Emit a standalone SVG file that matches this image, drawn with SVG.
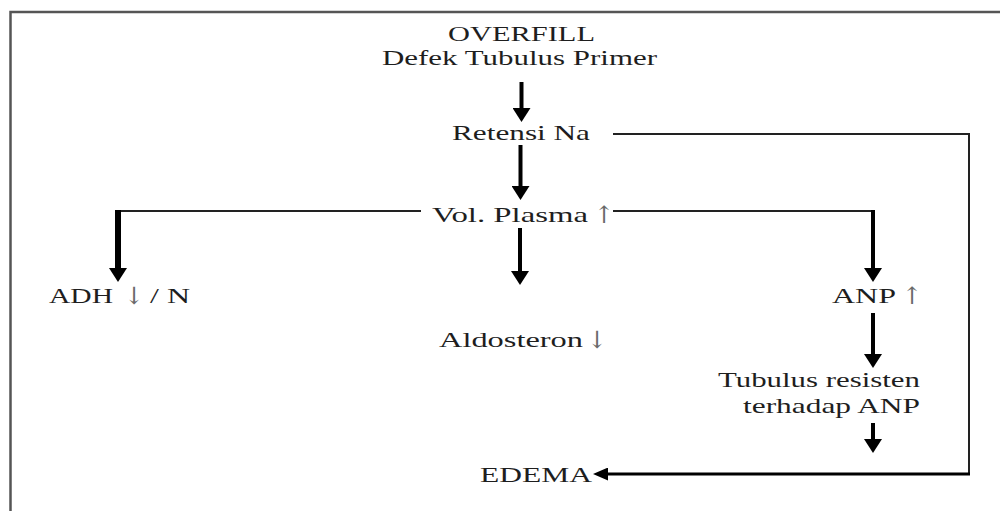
<svg xmlns="http://www.w3.org/2000/svg" width="1000" height="511" viewBox="0 0 1000 511">
<style>
text{font-family:"Liberation Serif","Times New Roman",serif;font-size:21px;fill:#1e1e1e}
.ar{font-family:"DejaVu Serif","Liberation Serif",serif;font-size:24px;fill:#6a6a6a}
.thin{stroke:#222;stroke-width:2;fill:none}
.shaft{stroke:#000;stroke-width:4;fill:none}
.frame{stroke:#555;stroke-width:2.5;fill:none}
</style>
<defs>
<marker id="head" markerUnits="userSpaceOnUse" viewBox="0 0 14 18" refX="0" refY="9" markerWidth="14" markerHeight="18" orient="auto">
<path d="M0,0 L14,9 L0,18 z" fill="#000"/>
</marker>
<marker id="headS" markerUnits="userSpaceOnUse" viewBox="0 0 15 13" refX="0" refY="6.5" markerWidth="15" markerHeight="13" orient="auto">
<path d="M0,0 L15,6.5 L0,13 z" fill="#000"/>
</marker>
</defs>
<rect width="1000" height="511" fill="#fff"/>
<path class="frame" d="M10.5,530 V12 H1010"/>
<g id="connectors">
<line class="shaft" x1="521.5" y1="82" x2="521.5" y2="108" marker-end="url(#head)"/>
<line class="shaft" x1="520.5" y1="145" x2="520.5" y2="186" marker-end="url(#head)"/>
<line class="shaft" x1="520" y1="228" x2="520" y2="271" marker-end="url(#head)"/>
<polyline class="thin" points="421,211 118,211"/>
<line x1="118" y1="210" x2="118" y2="268" stroke="#000" stroke-width="6" marker-end="url(#head)"/>
<polyline class="thin" points="613,211 873,211"/>
<line class="shaft" x1="873" y1="210" x2="873" y2="268" marker-end="url(#head)"/>
<line class="shaft" x1="873" y1="313" x2="873" y2="354" marker-end="url(#head)"/>
<line class="shaft" x1="873" y1="423" x2="873" y2="439" marker-end="url(#head)"/>
<polyline class="thin" points="613,134 969,134 969,474"/>
<line x1="970" y1="474" x2="608" y2="474" stroke="#000" stroke-width="3" marker-end="url(#headS)"/>
</g>
<g id="n-overfill">
<text x="448" y="41" font-size="18" textLength="147" lengthAdjust="spacingAndGlyphs">OVERFILL</text>
<text x="382" y="65" font-size="18" textLength="275" lengthAdjust="spacingAndGlyphs">Defek Tubulus Primer</text>
</g>
<g id="n-retensi"><text x="452" y="140" textLength="138" lengthAdjust="spacingAndGlyphs">Retensi Na</text></g>
<g id="n-volplasma">
<text x="432" y="222" textLength="156" lengthAdjust="spacingAndGlyphs">Vol. Plasma</text>
<text class="ar" x="594" y="223">↑</text>
</g>
<g id="n-adh">
<text x="49" y="303" textLength="64" lengthAdjust="spacingAndGlyphs">ADH</text>
<text class="ar" x="124" y="304">↓</text>
<text x="150" y="303" textLength="40" lengthAdjust="spacingAndGlyphs">/ N</text>
</g>
<g id="n-anp">
<text x="832" y="303" textLength="64" lengthAdjust="spacingAndGlyphs">ANP</text>
<text class="ar" x="902" y="304">↑</text>
</g>
<g id="n-aldosteron">
<text x="439" y="347" textLength="144" lengthAdjust="spacingAndGlyphs">Aldosteron</text>
<text class="ar" x="587" y="348">↓</text>
</g>
<g id="n-tubulus">
<text x="718" y="387" textLength="202" lengthAdjust="spacingAndGlyphs">Tubulus resisten</text>
<text x="743" y="413" textLength="177" lengthAdjust="spacingAndGlyphs">terhadap ANP</text>
</g>
<g id="n-edema"><text x="480" y="482" textLength="112" lengthAdjust="spacingAndGlyphs">EDEMA</text></g>
</svg>
